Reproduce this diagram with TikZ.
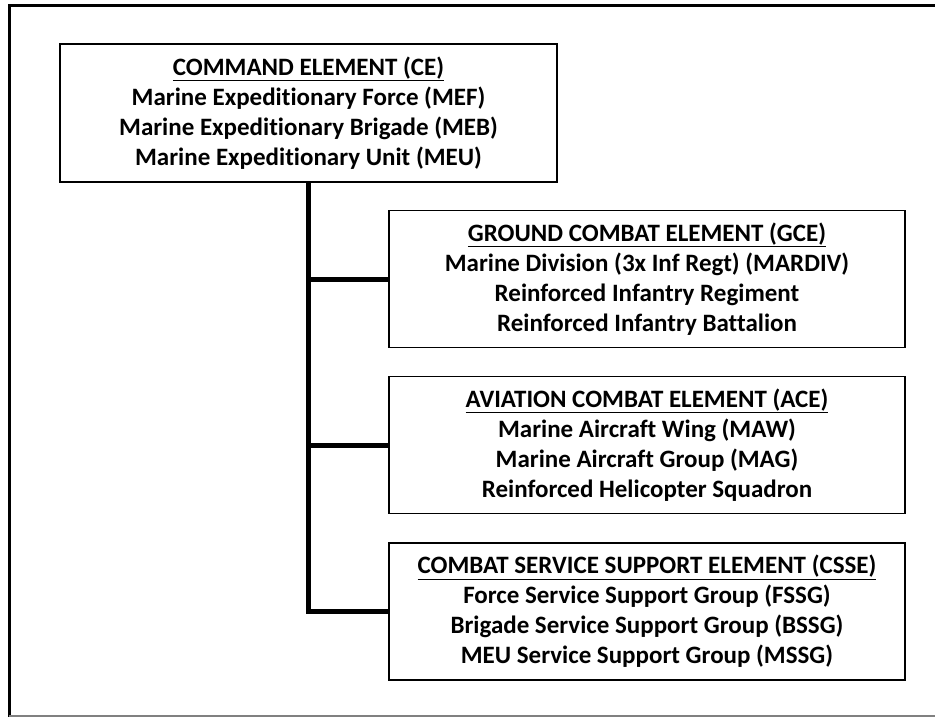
\documentclass[tikz,border=0pt]{standalone}
\usepackage{fontspec}
\setmainfont{Carlito}[Ligatures=CommonOff]
\tikzset{
  elembox/.style={draw, line width=1.6pt, inner sep=0pt, align=center,
    font=\bfseries\fontsize{25}{30}\selectfont},
  ce box/.style={elembox, minimum width=497pt, minimum height=138pt},
  sub box/.style={elembox, minimum width=516pt, minimum height=137pt},
  trunk/.style={line width=5pt, line join=miter}
}
\begin{document}
\begin{tikzpicture}[x=1pt, y=-1pt]

\def \boxx {647} % centre of the three element boxes
\useasboundingbox (0,0) rectangle (935,717);

% page frame
\draw[line width=3pt] (9,717) -- (9,6) -- (935,6);
\draw[line width=1.5pt, gray] (9,716) -- (935,716);

\node[ce box] (ce) at (308.5,113) {\underline{COMMAND ELEMENT (CE)}\\
  Marine Expeditionary Force (MEF)\\
  Marine Expeditionary Brigade (MEB)\\
  Marine Expeditionary Unit (MEU)};

\node[sub box] (gce) at (\boxx,279) {\underline{GROUND COMBAT ELEMENT (GCE)}\\
  Marine Division (3x Inf Regt) (MARDIV)\\
  Reinforced Infantry Regiment\\
  Reinforced Infantry Battalion};

\node[sub box] (ace) at (\boxx,445) {\underline{AVIATION COMBAT ELEMENT (ACE)}\\
  Marine Aircraft Wing (MAW)\\
  Marine Aircraft Group (MAG)\\
  Reinforced Helicopter Squadron};

\node[sub box] (csse) at (\boxx,611.5) {\underline{COMBAT SERVICE SUPPORT ELEMENT (CSSE)}\\
  Force Service Support Group (FSSG)\\
  Brigade Service Support Group (BSSG)\\
  MEU Service Support Group (MSSG)};

\draw[trunk] (ce.south) |- (csse.west);
\foreach \b in {gce, ace}
{
  \draw[trunk] (ce.south |- \b.west) -- (\b.west);
}
\end{tikzpicture}
\end{document}
